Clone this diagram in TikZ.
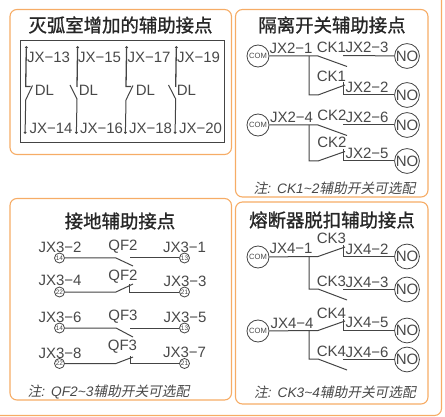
\documentclass[tikz,border=0pt]{standalone}
\usepackage{fontspec}
\setmainfont{Liberation Sans}
\newfontfamily\cjkb{Noto Sans CJK SC}[FakeBold=1.1]
\newfontfamily\cjkit{Noto Sans CJK SC}[FakeSlant=0.2]
\definecolor{boxor}{HTML}{F6AC66}
\definecolor{ink}{HTML}{444444}
\definecolor{txt}{HTML}{484848}
\newcommand{\zh}[1]{{\cjkit #1}}
\tikzset{
  panel/.style={draw=boxor,line width=1.1pt,rounded corners=7pt},
  wire/.style={draw=ink,line width=1pt},
  title/.style={inner sep=0pt,text=black!85,font=\cjkb\fontsize{18.4}{18}\selectfont},
  note/.style={inner sep=0pt,text=txt,font=\itshape\fontsize{13.7}{13}\selectfont},
  lab/.style={inner sep=0pt,text=txt,font=\fontsize{15}{15}\selectfont},
  bigc/.style={circle,draw=ink,line width=0.8pt,minimum size=22pt,inner sep=0pt,text=txt},
  nolab/.style={bigc,font=\fontsize{15}{14}\selectfont},
  comlab/.style={bigc,font=\fontsize{7.6}{7}\selectfont},
  smallc/.style={circle,draw=ink,line width=0.8pt,minimum size=10pt,inner sep=0pt,text=txt,font=\fontsize{6.5}{5}\selectfont},
  tip/.style={circle,fill=ink,inner sep=0pt,minimum size=3pt},
}
\begin{document}
\begin{tikzpicture}[x=1pt,y=-1pt]
\useasboundingbox (0,0) rectangle (445,417);
% outer frame
\draw[panel] (0,415.5) -- (441.5,415.5) -- (441.5,0);
% panels
\draw[panel] (10,9.5) rectangle (231.5,154.5);
\draw[panel] (235.5,9.5) rectangle (428,197);
\draw[panel] (10,198.5) rectangle (231.5,400);
\draw[panel] (235.5,202) rectangle (428,404);
% titles
\node[title] (t1) at (120.5,25) {灭弧室增加的辅助接点};
\node[title] (t2) at (332,25) {隔离开关辅助接点};
\node[title] (t3) at (120,221) {接地辅助接点};
\node[title] (t4) at (332,220) {熔断器脱扣辅助接点};
% notes
\node[note] (n2) at (334.5,188) {\zh{注}:\hspace{6pt}CK1\textasciitilde 2\zh{辅助开关可选配}};
\node[note] (n3) at (108.5,392) {\zh{注}:\hspace{6pt}QF2\textasciitilde 3\zh{辅助开关可选配}};
\node[note] (n4) at (335,392) {\zh{注}:\hspace{6pt}CK3\textasciitilde 4\zh{辅助开关可选配}};
% panel 1
\draw[draw=ink,line width=1pt] (20,40.5) rectangle (224,143);
\foreach \i/\x/\tl/\bl/\tx/\bx/\dx in {
  1/25.7/JX−13/JX−14/48.5/51/44.5,
  2/77/JX−15/JX−16/99.5/101.5/88.5,
  3/126/JX−17/JX−18/149/150.5/145.5,
  4/175.7/JX−19/JX−20/198.5/200.5/186.5}{
  \node[tip] (top\i) at (\x+0.6,47.5) {};
  \node[tip] (bot\i) at (\x-0.6,132.5) {};
  \node[lab] at (\tx,57.5) {\tl};
  \node[lab] at (\bx,128.5) {\bl};
  \node[lab] at (\dx,90.5) {DL};
}
\draw[wire,line width=1.3pt] (top1) -- (25.7,86.5) -- (30.5,86.5);
\draw[wire] (32.5,85.5) -- (25.7,100) -- (bot1);
\draw[wire,line width=1.3pt] (top2) -- (77,87);
\draw[wire] (70,85) -- (77,99) -- (bot2);
\draw[wire,line width=1.3pt] (top3) -- (126,86.5) -- (131,86.5);
\draw[wire] (133,85.5) -- (126,100) -- (bot3);
\draw[wire,line width=1.3pt] (top4) -- (175.7,87);
\draw[wire] (168.5,85) -- (175.7,99) -- (bot4);
% panel 2
\node[comlab] (c21) at (258,56) {COM};
\node[nolab] (n21) at (407,56) {NO};
\node[nolab] (n22) at (407,95) {NO};
\node[comlab] (c22) at (258,125) {COM};
\node[nolab] (n23) at (407,125) {NO};
\node[nolab] (n24) at (407,161) {NO};
\draw[wire] (c21) -- (318,56) -- (347,66.5);
\draw[wire] (309,56) -- (309,95) -- (318,95) -- (345,85);
\draw[wire] (343,55.5) -- (n21);
\draw[wire] (343,82) -- (343,95) -- (n22);
\draw[wire] (c22) -- (318,125) -- (347,135.5);
\draw[wire] (309,125) -- (309,161) -- (318,161) -- (345,151.5);
\draw[wire] (343,125) -- (n23);
\draw[wire] (343,149) -- (343,161) -- (n24);
\node[lab] at (291,48) {JX2−1};
\node[lab] at (331.5,47) {CK1};
\node[lab] at (367,47.5) {JX2−3};
\node[lab] at (331.5,76) {CK1};
\node[lab] at (367,87) {JX2−2};
\node[lab] at (291.5,117) {JX2−4};
\node[lab] at (332,115) {CK2};
\node[lab] at (367,117.5) {JX2−6};
\node[lab] at (332,142) {CK2};
\node[lab] at (367,153) {JX2−5};
% panel 3
\foreach \nm/\y/\a/\b in {a/258/14/13,b/292/22/21,c/328/14/13,d/363.5/22/21}{
  \node[smallc] (l\nm) at (59.5,\y) {\a};
  \node[smallc] (r\nm) at (184.5,\y) {\b};
}
\draw[wire] (la) -- (116,258) -- (133,266);
\draw[wire] (130,258) -- (ra);
\draw[wire] (lb) -- (116,292) -- (133,284);
\draw[wire] (129.5,284) -- (129.5,292) -- (rb);
\draw[wire] (lc) -- (116,328) -- (133,337);
\draw[wire] (130,328) -- (rc);
\draw[wire] (ld) -- (116,363.5) -- (133,357);
\draw[wire] (130.5,356) -- (130.5,363.5) -- (rd);
\node[lab] at (60,247) {JX3−2};
\node[lab] at (123,247) {QF2};
\node[lab] at (184.5,247) {JX3−1};
\node[lab] at (60,280) {JX3−4};
\node[lab] at (123,277) {QF2};
\node[lab] at (185,281) {JX3−3};
\node[lab] at (60,317) {JX3−6};
\node[lab] at (123,317) {QF3};
\node[lab] at (185,317) {JX3−5};
\node[lab] at (60,353) {JX3−8};
\node[lab] at (122.5,347) {QF3};
\node[lab] at (184.5,352) {JX3−7};
% panel 4
\node[comlab] (c41) at (258,257) {COM};
\node[nolab] (n41) at (407,256.5) {NO};
\node[nolab] (n42) at (407,289.5) {NO};
\node[comlab] (c42) at (258,331) {COM};
\node[nolab] (n43) at (407,330.5) {NO};
\node[nolab] (n44) at (407,359.5) {NO};
\draw[wire] (c41) -- (318,256.5) -- (345,247);
\draw[wire] (309,256.5) -- (309,289) -- (318,289) -- (347,300);
\draw[wire] (343,245) -- (343,256.5) -- (n41);
\draw[wire] (343,289.5) -- (n42);
\draw[wire] (c42) -- (318,330.5) -- (345,321);
\draw[wire] (309,330.5) -- (309,359) -- (318,359) -- (347,370);
\draw[wire] (343,319) -- (343,330.5) -- (n43);
\draw[wire] (343,359.5) -- (n44);
\node[lab] at (291,248) {JX4−1};
\node[lab] at (331.5,238) {CK3};
\node[lab] at (367,249) {JX4−2};
\node[lab] at (331.5,281) {CK3};
\node[lab] at (367,282) {JX4−3};
\node[lab] at (292,323) {JX4−4};
\node[lab] at (331.5,313) {CK4};
\node[lab] at (367,322) {JX4−5};
\node[lab] at (331.5,351) {CK4};
\node[lab] at (367,352) {JX4−6};
\end{tikzpicture}
\end{document}
